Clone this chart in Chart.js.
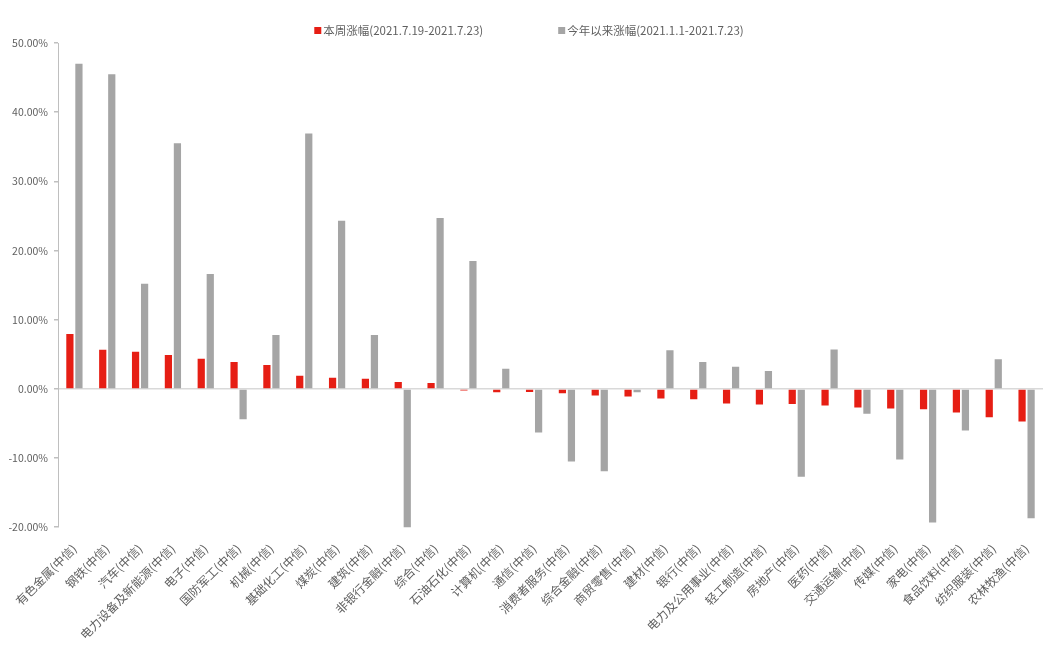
<!DOCTYPE html>
<html>
<head>
<meta charset="utf-8">
<script src="https://cdn.jsdelivr.net/npm/chart.js@4.4.0/dist/chart.umd.min.js"></script>
<style>
  html, body { margin: 0; padding: 0; background: #fff; }
  #wrap { width: 1058px; height: 648px; position: relative; }
</style>
</head>
<body>
<div id="wrap"><canvas id="chart"></canvas></div>
<script>
// Data
const categories = [
  '有色金属(中信)', '钢铁(中信)', '汽车(中信)', '电力设备及新能源(中信)', '电子(中信)',
  '国防军工(中信)', '机械(中信)', '基础化工(中信)', '煤炭(中信)', '建筑(中信)',
  '非银行金融(中信)', '综合(中信)', '石油石化(中信)', '计算机(中信)', '通信(中信)',
  '消费者服务(中信)', '综合金融(中信)', '商贸零售(中信)', '建材(中信)', '银行(中信)',
  '电力及公用事业(中信)', '轻工制造(中信)', '房地产(中信)', '医药(中信)', '交通运输(中信)',
  '传媒(中信)', '家电(中信)', '食品饮料(中信)', '纺织服装(中信)', '农林牧渔(中信)'
];
const weekLabel = '本周涨幅(2021.7.19-2021.7.23)';
const ytdLabel = '今年以来涨幅(2021.1.1-2021.7.23)';
const weekChange = [7.95, 5.65, 5.35, 4.9, 4.35, 3.9, 3.45, 1.9, 1.6, 1.45,
  1.0, 0.85, -0.25, -0.5, -0.45, -0.65, -0.95, -1.1, -1.4, -1.5,
  -2.1, -2.25, -2.2, -2.4, -2.7, -2.85, -2.95, -3.4, -4.1, -4.7];
const ytdChange = [47.0, 45.5, 15.2, 35.5, 16.6, -4.4, 7.8, 36.9, 24.3, 7.8,
  -20.2, 24.7, 18.5, 2.9, -6.3, -10.5, -11.9, -0.5, 5.6, 3.9,
  3.2, 2.6, -12.7, 5.7, -3.6, -10.2, -19.3, -6.0, 4.3, -18.7];
const yTicks = [-20, -10, 0, 10, 20, 30, 40, 50];

const FONT = '"Noto Sans CJK SC", "Noto Sans", sans-serif';
const TEXT = '#5f5f5f';

// simple centred legend drawn on the canvas
const topLegend = {
  id: 'topLegend',
  afterDraw(chart) {
    const ctx = chart.ctx;
    const box = 7, gap = 2, between = 75, y = 31;
    ctx.save();
    ctx.font = '11.5px ' + FONT;
    ctx.textBaseline = 'middle';
    const items = chart.data.datasets.map(ds => ({
      text: ds.label, color: ds.backgroundColor,
      w: box + gap + ctx.measureText(ds.label).width
    }));
    const total = items.reduce((s, it) => s + it.w, 0) + between * (items.length - 1);
    let x = chart.width / 2 - total / 2;
    items.forEach(it => {
      ctx.fillStyle = it.color;
      ctx.fillRect(x, y - 4, box, box);
      ctx.fillStyle = TEXT;
      ctx.fillText(it.text, x + box + gap, y);
      x += it.w + between;
    });
    ctx.restore();
  }
};

new Chart(document.getElementById('chart'), {
  type: 'bar',
  data: {
    labels: categories,
    datasets: [
      { label: weekLabel, data: weekChange, backgroundColor: '#E61E14' },
      { label: ytdLabel, data: ytdChange, backgroundColor: '#A5A5A5' }
    ]
  },
  options: {
    responsive: true,
    maintainAspectRatio: false,
    animation: false,
    categoryPercentage: 0.55,
    barPercentage: 0.8,
    layout: { padding: { top: 43, right: 15, left: 0, bottom: 0 } },
    plugins: { legend: { display: false }, tooltip: { enabled: false } },
    scales: {
      x: {
        grid: { display: false },
        border: { display: false },
        ticks: {
          autoSkip: false, maxRotation: 45, minRotation: 45, padding: 6,
          color: TEXT, font: { family: FONT, size: 12 }
        }
      },
      y: {
        min: yTicks[0], max: yTicks[yTicks.length - 1],
        afterBuildTicks: s => { s.ticks = yTicks.map(v => ({ value: v })); },
        afterFit: s => { s.width = 58; },
        border: { display: true, color: '#BFBFBF' },
        grid: {
          color: c => c.tick && c.tick.value === 0 ? '#D9D9D9' : 'rgba(0,0,0,0)',
          tickColor: '#BFBFBF', tickLength: 4, lineWidth: 1.5
        },
        ticks: {
          padding: 6, color: TEXT, font: { family: FONT, size: 10.5 },
          callback: v => v.toFixed(2) + '%'
        }
      }
    }
  },
  plugins: [topLegend]
});
</script>
</body>
</html>
